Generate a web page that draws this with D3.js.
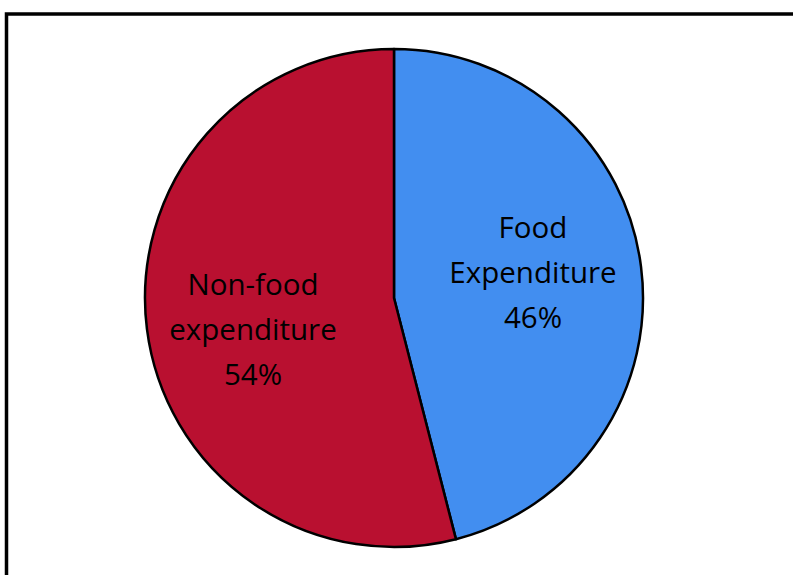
<!DOCTYPE html>
<html>
<head>
<meta charset="utf-8">
<script src="https://cdn.jsdelivr.net/npm/d3@7"></script>
<style>
  body { margin: 0; background: #fff; }
</style>
</head>
<body>
<script>
// Chart size
var w = 793;
var h = 575;

// Data
var categories = ["Food Expenditure", "Non-food expenditure"];
var values = [46, 54];
var labelLines = [["Food", "Expenditure", "46%"], ["Non-food", "expenditure", "54%"]];
var colors = ["#428EF0", "#B91030"];

// Pie geometry
var cx = 394, cy = 298, radius = 249;

var svg = d3.select("body")
            .append("svg")
            .attr("width", w)
            .attr("height", h);

// Outer frame (runs off the right and bottom)
svg.append("rect")
   .attr("x", 6.5)
   .attr("y", 14)
   .attr("width", w + 20)
   .attr("height", h + 20)
   .attr("fill", "none")
   .attr("stroke", "#000")
   .attr("stroke-width", 3.5);

var pie = d3.pie().sort(null).value(function(d) { return d; });
var arc = d3.arc().innerRadius(0).outerRadius(radius);

var g = svg.append("g")
           .attr("transform", "translate(" + cx + "," + cy + ")");

var arcs = pie(values);

g.selectAll("path")
 .data(arcs)
 .enter()
 .append("path")
 .attr("d", arc)
 .attr("fill", function(d, i) { return colors[i]; })
 .attr("stroke", "#000")
 .attr("stroke-width", 2.5)
 .attr("stroke-linejoin", "round");

// Label positions, offset from centre
var labelPos = [[139, -60], [-141, -3]];

arcs.forEach(function(d, i) {
  var t = g.append("text")
           .attr("text-anchor", "middle")
           .attr("font-family", "'Open Sans', sans-serif")
           .attr("font-size", "29.5px")
           .attr("fill", "#000")
           .attr("x", labelPos[i][0])
           .attr("y", labelPos[i][1]);
  labelLines[i].forEach(function(line, j) {
    t.append("tspan")
     .attr("x", labelPos[i][0])
     .attr("dy", j === 0 ? 0 : 45)
     .text(line);
  });
});
</script>
</body>
</html>
